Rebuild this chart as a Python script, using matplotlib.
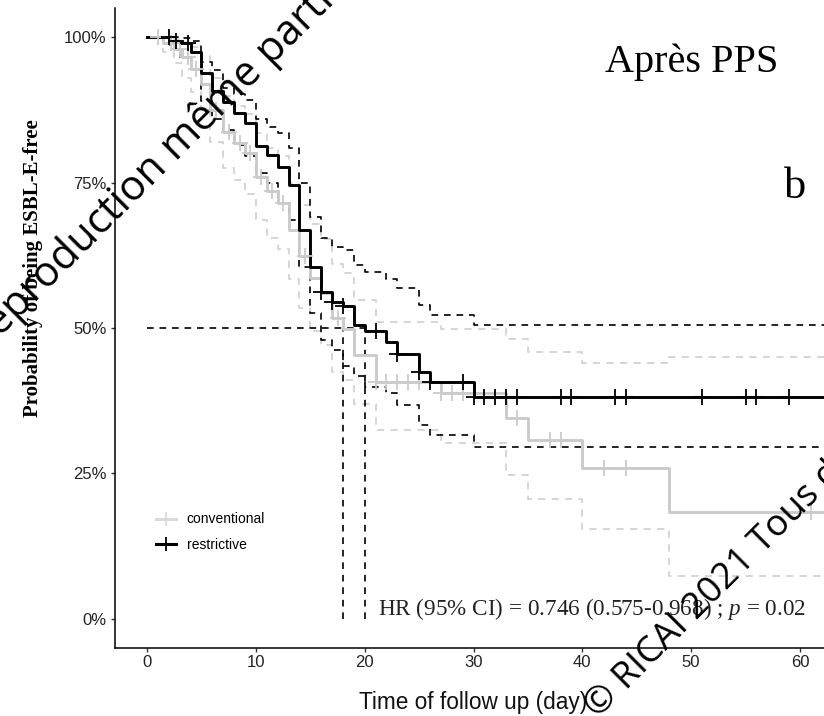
import matplotlib
matplotlib.use("Agg")
import matplotlib.pyplot as plt
from matplotlib.lines import Line2D
import numpy as np

plt.rcParams["mathtext.fontset"] = "custom"
plt.rcParams["mathtext.it"] = "Liberation Serif:italic"
plt.rcParams["mathtext.rm"] = "Liberation Serif"

# ---------------- data ----------------
follow_up_end = 66

# conventional arm (grey)
t_conv = [0, 1.5, 2.5, 3.2, 4, 5, 5.8, 7, 8, 9, 10, 11, 12, 13, 14, 15, 16, 17, 18, 19, 21, 27, 33, 35, 40, 48]
s_conv = [100, 99, 98, 96.5, 94.5, 92, 87.5, 83.7, 81.8, 80, 76, 73.5, 71.5, 66.8, 62.3, 58.6, 56, 51.7, 49.9, 45.4, 40.8, 38.8, 34.5, 30.8, 25.9, 18.3]
up_conv = [100, 100, 99.7, 99.2, 98.3, 96.8, 93, 89.8, 88.2, 86.8, 83.5, 81, 79.5, 75, 71.2, 67.8, 65.3, 61, 59.5, 54.8, 51.1, 49.8, 48.1, 45.9, 44, 45]
lo_conv = [100, 97.5, 95.5, 93, 90.5, 87.5, 82, 77.5, 75.5, 73, 68.5, 65.5, 63.5, 58.5, 53.5, 49.5, 47, 42.5, 41, 37, 32.5, 30.3, 24.7, 20.6, 15.5, 7.4]
cens_conv = [1, 2.2, 3, 3.8, 4.5, 6.3, 7.5, 8.5, 9.5, 10.5, 11.5, 12.5, 14.5, 17.5, 21, 22, 23, 24, 25, 27, 28, 29, 34, 37, 38, 42, 44, 61]

# restrictive arm (black)
t_res = [0, 2.1, 3, 4, 5, 6, 7, 8, 9, 10, 11, 12, 13, 14, 15, 16, 17, 18, 19, 20, 22, 23, 25, 26, 30]
s_res = [100, 99.4, 98.9, 97.5, 93.8, 90.8, 88.9, 86.9, 85.2, 81.2, 79.7, 77.7, 74.6, 66.8, 60.5, 56.2, 54.5, 53.7, 50.5, 49.4, 47.6, 45.6, 42.5, 40.8, 38.2]
up_res = [100, 100, 99.8, 99.3, 95.7, 94.3, 91.2, 90.3, 89.2, 86, 84.6, 83.5, 80.9, 74.9, 69.1, 65.4, 64, 63.4, 60.8, 59.7, 58.5, 56.8, 54, 52.2, 50.5]
lo_res = [100, 98, 96.5, 94.5, 89, 86, 84, 81.5, 79.5, 76.6, 74.9, 71.5, 68.6, 60.5, 52.6, 47.9, 46.2, 43.5, 41.7, 39.9, 38.8, 36.8, 33.3, 31.6, 29.6]
cens_res = [2, 2.7, 3.8, 16, 17, 18, 21, 23, 25, 26, 29, 30, 31, 32, 33, 34, 38, 39, 43, 44, 51, 55, 56, 59]

medians = [18, 20]
x_ticks = [0, 10, 20, 30, 40, 50, 60]
y_ticks = [0, 25, 50, 75, 100]
y_ticklabels = ["0%", "25%", "50%", "75%", "100%"]
labels = ["conventional", "restrictive"]
hr_text = "HR (95% CI) = 0.746 (0.575-0.968) ; $\\mathit{p}$ = 0.02"

# ---------------- figure ----------------
W, H = 824, 716
fig = plt.figure(figsize=(W / 100, H / 100), dpi=100)
ax = fig.add_axes([115 / W, 1 - 648 / H, 1 - 115 / W + 0.05, (648 - 8) / H])

GREY = "#CBCBCB"
GREY_D = "#D2D2D2"
BLACK = "#000000"
DASH = (0, (4, 3.5))


def step_xy(t, s):
    return list(t) + [follow_up_end], list(s) + [s[-1]]


def surv_at(t, s, x):
    idx = np.searchsorted(np.array(t), x, side="right") - 1
    return np.array(s)[idx]


# confidence intervals
for t, lo, up, col, lw in [(t_conv, lo_conv, up_conv, GREY_D, 1.3),
                           (t_res, lo_res, up_res, BLACK, 1.2)]:
    for band in (lo, up):
        xx, yy = step_xy(t, band)
        ax.step(xx, yy, where="post", color=col, lw=lw, ls=DASH, zorder=2)

# curves
for t, s, c, col in [(t_conv, s_conv, cens_conv, GREY), (t_res, s_res, cens_res, BLACK)]:
    xx, yy = step_xy(t, s)
    ax.step(xx, yy, where="post", color=col, lw=2.1, zorder=3)
    ax.plot(c, surv_at(t, s, c), ls="none", marker="+", ms=11, mew=1.3, color=col, zorder=4)

# median lines
ax.plot([0, max(medians)], [50, 50], color=BLACK, lw=1.2, ls=DASH, zorder=2)
for m in medians:
    ax.plot([m, m], [0, 50], color=BLACK, lw=1.2, ls=DASH, zorder=2)

ax.set_xlim(-2.95, 66)
ax.set_ylim(-5, 105)
ax.set_xticks(x_ticks)
ax.set_yticks(y_ticks)
ax.set_yticklabels(y_ticklabels)
for sp in ["top", "right"]:
    ax.spines[sp].set_visible(False)
for sp in ["left", "bottom"]:
    ax.spines[sp].set_linewidth(1.1)
ax.tick_params(axis="both", length=3, width=1.0, color="#333333",
               labelsize=12, labelcolor="#222222")
ax.tick_params(axis="x", pad=2)
ax.tick_params(axis="y", pad=3)
for lab in ax.get_xticklabels() + ax.get_yticklabels():
    lab.set_family("Liberation Sans")

# legend
handles = [Line2D([0], [0], color="#DADADA", lw=2.2, marker="+", ms=10, mew=1.3),
           Line2D([0], [0], color=BLACK, lw=2.2, marker="+", ms=10, mew=1.3)]
ax.legend(handles, labels, loc="center left", bbox_to_anchor=(156 / W, 1 - 532 / H),
          bbox_transform=fig.transFigure, frameon=False, borderpad=0, borderaxespad=0,
          handlelength=1.45, handletextpad=0.75, labelspacing=0.8,
          prop={"family": "Liberation Sans", "size": 10})

# texts
fig.text(33 / W, 1 - 268 / H, "Probability of being ESBL-E-free", rotation=90,
         ha="center", va="center", family="Liberation Serif", weight="bold", fontsize=15)
fig.text(473 / W, 1 - 702 / H, "Time of follow up (day)", ha="center", va="center",
         family="Liberation Sans", fontsize=16.3, color="#111111")
fig.text(692 / W, 1 - 62 / H, "Après PPS", ha="center", va="center",
         family="Liberation Serif", fontsize=29)
fig.text(795 / W, 1 - 187 / H, "b", ha="center", va="center",
         family="Liberation Serif", fontsize=32)
fig.text(592 / W, 1 - 615 / H, hr_text, ha="center", va="baseline",
         family="Liberation Serif", fontsize=16.7, color="#222222")

# watermarks
fig.text(-18 / W, 1 - 356 / H, "Reproduction même partielle interdite", rotation=45,
         rotation_mode="anchor", ha="left", va="baseline", family="Open Sans",
         fontsize=30, color="black", zorder=10)
fig.text(598 / W, 1 - 719 / H, "© RICAI 2021 Tous droits réservés", rotation=45,
         rotation_mode="anchor", ha="left", va="baseline", family="Open Sans",
         fontsize=26.5, color="black", zorder=10)

fig.savefig("out.png", dpi=100)
